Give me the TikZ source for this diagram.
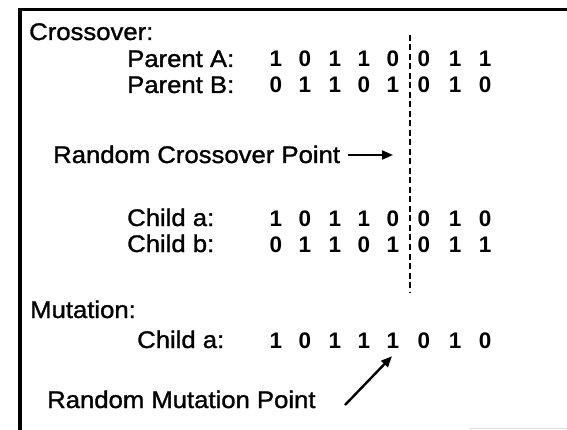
\documentclass[tikz,border=0pt]{standalone}
\usepackage{fontspec}
\setmainfont{Liberation Sans}
\newfontfamily\heavysans[FakeBold=1.2]{Liberation Sans}
\usetikzlibrary{arrows.meta}
\newcommand{\wide}[1]{\scalebox{1.07}[1]{#1}}
\begin{document}
\begin{tikzpicture}[x=1pt,y=-1pt,
  lbl/.style={anchor=base west, inner sep=0pt, font=\heavysans\fontsize{24}{24}\selectfont},
  bit/.style={anchor=base, inner sep=0pt, font=\bfseries\fontsize{22.5}{22.5}\selectfont},
  frame/.style={line width=3.6pt},
  cutline/.style={line width=1.8pt, dash pattern=on 6pt off 3.5pt},
  pointer/.style={line width=2pt, -{Triangle[length=11pt,width=9pt]}}]
\useasboundingbox (0,0) rectangle (567,430);

% frame: top rule and left rule, faint trace of the lower rule
\coordinate (tl) at (20,9.5);
\coordinate (tr) at (567,9.5);
\coordinate (bl) at (20,430);
\draw[frame] (tr) -- (tl) -- (bl);
\coordinate (lowl) at (470,428.5);
\coordinate (lowr) at (567,428.5);
\draw[gray!30, line width=1pt] (lowl) -- (lowr);

% bit columns
\def\cols{{276,305,335,364,393,424,455,485}}

% crossover section
\node[lbl] (xo) at (29,40) {\wide{Crossover:}};
\node[lbl] (pa) at (127,67) {\wide{Parent A:}};
\node[lbl] (pb) at (127,93) {\wide{Parent B:}};

\foreach \b [count=\i from 0] in {1,0,1,1,0,0,1,1} {
  \pgfmathsetmacro{\xx}{\cols[\i]}
  \node[bit] (pa\i) at (\xx,67) {\b};
}
\foreach \b [count=\i from 0] in {0,1,1,0,1,0,1,0} {
  \pgfmathsetmacro{\xx}{\cols[\i]}
  \node[bit] (pb\i) at (\xx,93) {\b};
}

\coordinate (cuttop) at (410,35);
\coordinate (cutbot) at (410,292);
\draw[cutline] (cuttop) -- (cutbot);

\node[lbl] (rcp) at (53,163) {\wide{Random Crossover Point}};
\coordinate (rcptail) at (348,155);
\coordinate (rcptip) at (393,155);
\draw[pointer] (rcptail) -- (rcptip);

\node[lbl] (ca) at (127,226) {\wide{Child a:}};
\node[lbl] (cb) at (127,252) {\wide{Child b:}};
\foreach \b [count=\i from 0] in {1,0,1,1,0,0,1,0} {
  \pgfmathsetmacro{\xx}{\cols[\i]}
  \node[bit] (ca\i) at (\xx,226) {\b};
}
\foreach \b [count=\i from 0] in {0,1,1,0,1,0,1,1} {
  \pgfmathsetmacro{\xx}{\cols[\i]}
  \node[bit] (cb\i) at (\xx,252) {\b};
}

% mutation section
\node[lbl] (mu) at (30,318) {\wide{Mutation:}};
\node[lbl] (ma) at (137,348) {\wide{Child a:}};
\foreach \b [count=\i from 0] in {1,0,1,1,1,0,1,0} {
  \pgfmathsetmacro{\xx}{\cols[\i]}
  \node[bit] (ma\i) at (\xx,348) {\b};
}
\node[lbl] (rmp) at (47,408) {\wide{Random Mutation Point}};
\coordinate (rmptail) at (345,405);
\draw[pointer, line width=2.4pt] (rmptail) -- ([xshift=-1pt,yshift=-8pt]ma4.south);
\end{tikzpicture}
\end{document}
